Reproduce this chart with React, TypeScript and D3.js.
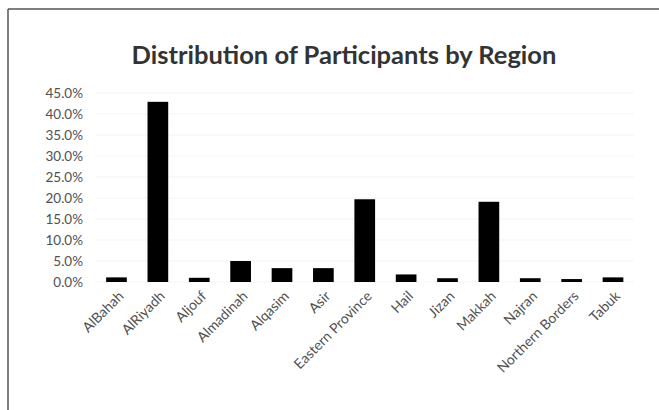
import React from "react";
import * as d3 from "d3";

const categories = [
  "AlBahah", "AlRiyadh", "Aljouf", "Almadinah", "Alqasim", "Asir",
  "Eastern Province", "Hail", "Jizan", "Makkah", "Najran", "Northern Borders", "Tabuk",
];
const values = [1.1, 42.9, 1.0, 5.0, 3.3, 3.3, 19.7, 1.8, 0.9, 19.1, 0.9, 0.7, 1.1];
const yTicks = [0, 5, 10, 15, 20, 25, 30, 35, 40, 45];
const title = "Distribution of Participants by Region";

const W = 659;
const H = 410;
const FONT = "Lato, 'Open Sans', sans-serif";

export default function App() {
  const x = d3
    .scaleBand<string>()
    .domain(categories)
    .range([95.8, 633.7])
    .paddingInner(0.5)
    .paddingOuter(0.25);
  const y = d3.scaleLinear().domain([0, 45]).range([282, 93]);
  const fmt = (v: number) => v.toFixed(1) + "%";

  return (
    <svg
      width={W}
      height={H}
      style={{ position: "absolute", left: 0, top: 0, background: "#fff" }}
      fontFamily={FONT}
    >
      <rect x={0} y={0} width={W} height={H} fill="#fff" />
      {/* frame */}
      <line x1={8} y1={9} x2={W} y2={9} stroke="#555" strokeWidth={1.5} />
      <line x1={8} y1={9} x2={8} y2={H} stroke="#555" strokeWidth={1.5} />

      {/* title */}
      <text
        x={344}
        y={64}
        textAnchor="middle"
        fontSize={25.5}
        fontWeight="bold"
        fill="#333"
      >
        {title}
      </text>

      {/* gridlines */}
      {yTicks.map((t) => (
        <line
          key={"g" + t}
          x1={95.8}
          x2={633.7}
          y1={y(t)}
          y2={y(t)}
          stroke="#f3f3f3"
          strokeWidth={1}
        />
      ))}

      {/* y tick labels */}
      {yTicks.map((t) => (
        <text
          key={"t" + t}
          x={83}
          y={y(t)}
          dy="0.35em"
          textAnchor="end"
          fontSize={13.5}
          fill="#505050"
        >
          {fmt(t)}
        </text>
      ))}

      {/* bars */}
      {categories.map((c, i) => (
        <rect
          key={c}
          x={x(c)}
          y={y(values[i])}
          width={x.bandwidth()}
          height={y(0) - y(values[i])}
          fill="#000"
        />
      ))}

      {/* x labels */}
      {categories.map((c) => {
        const cx = (x(c) as number) + x.bandwidth() / 2 + 8;
        const cy = 297;
        return (
          <text
            key={"l" + c}
            transform={`translate(${cx},${cy}) rotate(-45)`}
            textAnchor="end"
            fontSize={14}
            fill="#505050"
          >
            {c}
          </text>
        );
      })}
    </svg>
  );
}
